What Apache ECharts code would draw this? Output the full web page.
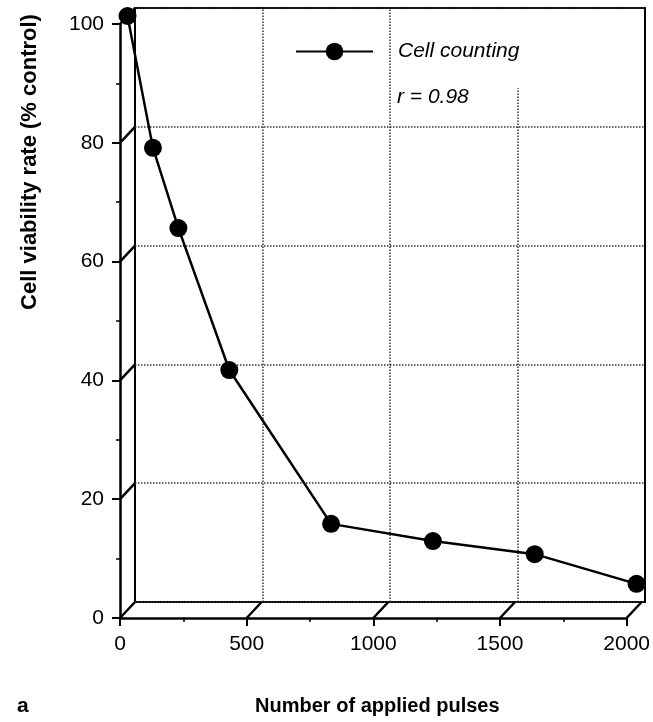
<!DOCTYPE html>
<html><head><meta charset="utf-8">
<script src="https://cdn.jsdelivr.net/npm/echarts@6/dist/echarts.min.js"></script>
<style>html,body{margin:0;padding:0;background:#fff}#c{width:653px;height:722px}</style>
</head><body><div id="c"></div>
<script>
// ---- data ----
const pulses = [0, 100, 200, 400, 800, 1200, 1600, 2000];
const viability = [100, 77.8, 64.3, 40.4, 14.5, 11.6, 9.4, 4.4];
const xTicks = [0, 500, 1000, 1500, 2000];
const yTicks = [0, 20, 40, 60, 80, 100];
const seriesName = 'Cell counting';
const rLabel = 'r = 0.98';
const xTitle = 'Number of applied pulses';
const yTitle = 'Cell viability rate (% control)';
const panelLabel = 'a';
const partialGridTop = 86.5; // 1500 gridline stops below legend

// ---- style ----
const DX = 15, DY = -16;
const FONT = '"Liberation Sans", Arial, Helvetica, sans-serif';

const chart = echarts.init(document.getElementById('c'), null, {renderer: 'canvas'});
const xBase = {type: 'value', min: 0, max: 2000, interval: 500};
const yBase = {type: 'value', min: 0, max: 100, interval: 20};

const connectorData = yTicks.map(v => [0, v]).concat(xTicks.filter(v => v > 0).map(v => [v, 0]));

const vLines = xTicks.filter(v => v > 0 && v < 2000).map(v => [
  {coord: [v, 0]}, {coord: [v, v === 1500 ? partialGridTop : 100]}
]);

const option = {
  animation: false,
  backgroundColor: '#fff',
  title: [
    {text: rLabel, left: 392, top: 82, textStyle: {fontFamily: FONT, fontStyle: 'italic', fontWeight: 'normal', fontSize: 21, color: '#000'}},
    {text: panelLabel, left: 12, top: 691, textStyle: {fontFamily: FONT, fontWeight: 'bold', fontSize: 21, color: '#000'}}
  ],
  graphic: [
    {type: 'text', x: 30, y: 162, rotation: Math.PI / 2,
      style: {text: yTitle, fill: '#000', font: 'bold 22px ' + FONT, align: 'center', verticalAlign: 'middle'}}
  ],
  legend: {
    data: [seriesName], left: 295, top: 41, padding: 0, itemWidth: 77, itemHeight: 22, itemGap: 0,
    textStyle: {fontFamily: FONT, fontStyle: 'italic', fontSize: 21, color: '#000', padding: [0, 0, 0, 20]},
    inactiveColor: '#000'
  },
  grid: [
    {left: 135, top: 8, width: 510, height: 594, show: true, borderColor: '#000', borderWidth: 2, backgroundColor: 'transparent'},
    {left: 127.5, top: 16, width: 509, height: 594},
    {left: 120, top: 24, width: 508, height: 594}
  ],
  xAxis: [
    Object.assign({}, xBase, {gridIndex: 0, axisLine: {show: false}, axisTick: {show: false}, axisLabel: {show: false}, splitLine: {show: false}}),
    Object.assign({}, xBase, {gridIndex: 1, show: false}),
    Object.assign({}, xBase, {
      gridIndex: 2,
      axisLine: {show: true, onZero: false, lineStyle: {color: '#000', width: 2.5}},
      axisTick: {show: true, length: 8, lineStyle: {color: '#000', width: 2}},
      minorTick: {show: true, splitNumber: 2, length: 4, lineStyle: {color: '#000', width: 1.5}},
      axisLabel: {color: '#000', fontSize: 21, fontFamily: FONT, margin: 16, formatter: v => String(v)},
      splitLine: {show: false},
      name: xTitle, nameLocation: 'middle', nameGap: 78,
      nameTextStyle: {fontFamily: FONT, fontWeight: 'bold', fontSize: 20, color: '#000', padding: [0, 0, 0, 8]}
    })
  ],
  yAxis: [
    Object.assign({}, yBase, {
      gridIndex: 0, axisLine: {show: false}, axisTick: {show: false}, axisLabel: {show: false},
      splitLine: {show: true, lineStyle: {color: '#333', type: 'dotted', width: 1.5}}
    }),
    Object.assign({}, yBase, {gridIndex: 1, show: false}),
    Object.assign({}, yBase, {
      gridIndex: 2,
      axisLine: {show: true, onZero: false, lineStyle: {color: '#000', width: 2.5}},
      axisTick: {show: true, length: 8, lineStyle: {color: '#000', width: 2}},
      minorTick: {show: true, splitNumber: 2, length: 4, lineStyle: {color: '#000', width: 1.5}},
      axisLabel: {color: '#000', fontSize: 21, fontFamily: FONT, margin: 16},
      splitLine: {show: false}
    })
  ],
  series: [
    {
      type: 'line', xAxisIndex: 0, yAxisIndex: 0, data: [], silent: true,
      markLine: {
        silent: true, symbol: 'none', label: {show: false},
        lineStyle: {color: '#333', type: 'dotted', width: 1.5},
        data: vLines
      }
    },
    {
      type: 'custom', xAxisIndex: 2, yAxisIndex: 2, data: connectorData, silent: true, z: 3,
      renderItem: function (params, api) {
        const p = api.coord([api.value(0), api.value(1)]);
        return {type: 'line', shape: {x1: p[0], y1: p[1], x2: p[0] + DX, y2: p[1] + DY},
          style: {stroke: '#000', lineWidth: 2.5}};
      }
    },
    {
      name: seriesName, type: 'line', xAxisIndex: 1, yAxisIndex: 1, z: 5,
      data: pulses.map((x, i) => [x, viability[i]]),
      symbol: 'circle', symbolSize: 18, showAllSymbol: true,
      itemStyle: {color: '#000'},
      lineStyle: {color: '#000', width: 2.5}
    }
  ]
};
chart.setOption(option);
</script></body></html>
